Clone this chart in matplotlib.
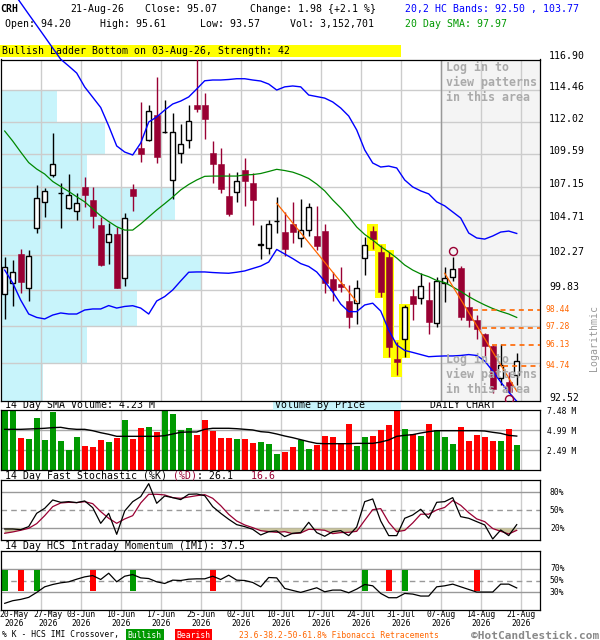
import numpy as np
import matplotlib
matplotlib.use('Agg')
import matplotlib.pyplot as plt
from matplotlib.patches import Rectangle
import matplotlib.transforms as mtransforms
from matplotlib.ticker import NullLocator

# ---------------- data ----------------
ticker = 'CRH'
last_date = '21-Aug-26'
date_labels = ['20-May', '27-May', '03-Jun', '10-Jun', '17-Jun', '25-Jun', '02-Jul',
               '10-Jul', '17-Jul', '24-Jul', '31-Jul', '07-Aug', '14-Aug', '21-Aug']
year_label = '2026'

opens = [99.53, 100.29, 102.32, 99.99, 104.13, 106.01, 107.99, 106.70, 105.58, 105.38,
         107.13, 106.18, 104.37, 103.15, 103.73, 100.64, 106.98, 110.03, 110.61, 112.54,
         111.22, 107.62, 109.62, 110.61, 113.32, 113.32, 109.65, 108.82, 106.47, 106.73,
         108.38, 107.42, 102.98, 102.73, 104.64, 103.85, 104.44, 103.43, 103.99, 103.59,
         103.94, 100.59, 100.24, 99.08, 98.93, 102.02, 103.94, 102.46, 102.14, 95.19,
         96.51, 99.42, 99.26, 99.15, 97.58, 100.29, 100.70, 101.32, 98.66, 97.80,
         96.87, 96.07, 93.97, 93.72, 94.20]
highs = [102.09, 101.90, 102.68, 102.58, 107.28, 107.08, 111.16, 107.40, 108.09, 106.66,
         107.87, 107.13, 104.95, 104.52, 104.25, 105.21, 107.35, 113.58, 113.32, 115.54,
         113.70, 112.72, 111.85, 113.32, 116.90, 114.27, 110.56, 110.03, 108.14, 108.21,
         109.27, 108.14, 104.35, 104.73, 106.42, 105.28, 106.01, 106.25, 105.94, 105.74,
         104.47, 101.07, 101.39, 100.15, 100.52, 103.50, 104.32, 102.93, 102.49, 96.36,
         98.79, 99.90, 101.03, 100.38, 100.75, 101.44, 102.14, 101.49, 99.67, 98.14,
         96.91, 96.14, 96.21, 94.40, 95.61]
lows = [97.85, 98.75, 99.60, 99.06, 103.83, 104.97, 107.89, 104.18, 105.55, 104.73,
        105.70, 104.18, 101.51, 101.65, 99.95, 100.13, 105.41, 109.00, 110.55, 108.92,
        111.14, 106.23, 108.92, 110.05, 112.77, 110.73, 107.40, 106.66, 105.05, 106.01,
        105.77, 104.39, 102.00, 102.35, 103.78, 102.21, 103.12, 102.84, 103.62, 102.61,
        99.60, 99.08, 99.72, 97.28, 97.51, 100.84, 102.68, 99.38, 95.37, 94.19,
        95.37, 97.78, 98.86, 96.89, 97.35, 99.04, 100.47, 97.80, 97.31, 96.56,
        95.37, 93.01, 93.54, 93.01, 93.57]
closes = [101.44, 101.05, 100.41, 102.16, 106.30, 106.81, 108.80, 106.72, 106.52, 105.94,
          106.56, 105.05, 101.58, 103.73, 99.99, 104.85, 106.49, 109.60, 112.83, 109.37,
          111.26, 111.24, 110.30, 112.08, 113.03, 112.26, 108.85, 107.00, 105.16, 107.57,
          107.59, 106.20, 103.02, 104.44, 104.68, 102.70, 103.90, 103.99, 105.67, 102.91,
          100.29, 99.81, 100.06, 98.03, 99.95, 102.93, 103.40, 99.72, 96.03, 95.04,
          98.68, 98.90, 100.08, 97.69, 100.47, 100.64, 101.30, 98.03, 97.78, 97.17,
          96.10, 93.31, 94.81, 93.09, 95.07]
volumes_m = [7.48, 7.45, 4.03, 3.91, 6.48, 3.78, 7.23, 3.62, 2.54, 4.11,
             2.99, 2.87, 3.78, 3.49, 3.99, 6.28, 3.91, 5.24, 5.36, 4.74,
             7.46, 6.98, 5.03, 5.24, 4.41, 6.28, 4.90, 4.03, 4.03, 3.91,
             3.91, 3.37, 3.49, 3.24, 2.04, 2.24, 2.87, 3.70, 2.66, 3.16,
             4.28, 4.11, 3.20, 5.74, 3.03, 4.11, 4.24, 5.03, 5.61, 7.47,
             5.15, 4.49, 4.24, 5.74, 5.03, 4.11, 3.24, 5.40, 3.66, 4.36,
             4.11, 3.62, 3.62, 5.15, 3.152701]
vol_sma_m = [5.07, 5.07, 5.07, 5.11, 5.15, 5.20, 5.28, 5.32, 5.15, 5.07,
             5.07, 4.90, 4.65, 4.45, 4.20, 4.20, 4.20, 4.20, 4.20, 4.20,
             4.28, 4.49, 4.70, 4.74, 4.74, 5.07, 5.20, 5.20, 5.20, 5.15,
             5.07, 4.99, 4.78, 4.70, 4.49, 4.24, 4.03, 3.78, 3.53, 3.32,
             3.28, 3.28, 3.28, 3.28, 3.32, 3.32, 3.32, 3.49, 3.74, 4.20,
             4.32, 4.41, 4.61, 4.78, 4.90, 4.90, 4.90, 4.90, 4.90, 4.90,
             4.86, 4.70, 4.57, 4.32, 4.23]
upper_band = [123.42, 122.47, 121.52, 120.58, 119.66, 118.74, 117.82, 116.92, 116.38, 115.82,
              114.72, 113.92, 113.12, 111.70, 110.18, 109.72, 109.50, 110.40, 112.00, 112.39,
              112.92, 113.39, 113.62, 113.94, 114.56, 115.21, 115.27, 115.27, 115.31, 115.37,
              115.37, 115.27, 115.19, 114.95, 114.48, 114.73, 114.80, 114.73, 114.09, 113.97,
              113.85, 113.55, 113.08, 112.46, 111.39, 109.88, 108.90, 108.60, 108.67, 108.53,
              107.64, 107.13, 106.84, 106.62, 106.04, 105.75, 105.31, 104.87, 103.80, 103.45,
              103.37, 103.59, 103.87, 103.94, 103.77]
lower_band = [101.20, 100.31, 99.14, 98.20, 97.97, 97.87, 98.13, 98.27, 98.20, 98.20,
              98.47, 98.54, 98.54, 98.77, 98.60, 98.71, 98.76, 98.60, 98.20, 99.08,
              99.38, 99.83, 100.45, 101.05, 101.07, 101.07, 101.03, 101.00, 100.98, 101.05,
              101.14, 101.31, 101.48, 101.76, 102.64, 102.32, 102.00, 101.65, 101.45, 101.07,
              100.42, 99.69, 98.87, 98.36, 98.36, 98.81, 98.93, 98.40, 97.13, 96.14,
              95.78, 95.65, 95.51, 95.37, 95.40, 95.42, 95.42, 95.45, 95.51, 95.45,
              95.09, 94.44, 93.73, 93.09, 92.50]
sma20 = [111.31, 110.55, 109.72, 108.93, 108.45, 108.08, 107.53, 107.16, 106.80, 106.41,
         106.04, 105.53, 105.03, 104.62, 104.25, 104.01, 104.01, 104.45, 104.95, 105.45,
         105.91, 106.39, 106.91, 107.31, 107.64, 107.91, 107.93, 107.93, 107.93, 107.93,
         108.01, 108.04, 108.12, 108.27, 108.43, 108.34, 108.22, 108.01, 107.75, 107.34,
         106.84, 106.18, 105.60, 104.95, 104.23, 103.70, 103.30, 102.84, 102.46, 102.04,
         101.55, 101.20, 100.93, 100.74, 100.48, 100.34, 100.04, 99.73, 99.38, 99.08,
         98.81, 98.57, 98.37, 98.20, 97.97]
stoch_k = [18.9, 18.9, 17.8, 22.8, 45.0, 53.3, 67.2, 63.3, 64.4, 62.8,
           65.6, 54.4, 28.3, 45.0, 10.0, 48.9, 64.4, 72.8, 94.4, 61.7,
           73.9, 71.1, 67.8, 76.7, 77.2, 74.4, 56.1, 45.0, 35.0, 26.1,
           22.8, 18.3, 8.9, 14.4, 15.6, 6.1, 11.7, 12.8, 30.0, 12.8,
           6.7, 14.4, 16.1, 7.8, 22.2, 64.4, 68.9, 32.2, 7.8, 7.8,
           36.7, 42.2, 51.7, 36.7, 63.3, 64.4, 71.1, 39.4, 36.7, 31.1,
           25.6, 2.2, 17.2, 7.8, 26.1]
stoch_d = [11.7, 13.9, 16.7, 20.0, 27.8, 41.1, 56.1, 62.2, 63.3, 62.8,
           64.4, 61.1, 47.8, 36.7, 28.3, 35.6, 41.1, 62.2, 76.7, 76.7,
           75.6, 71.1, 70.0, 72.2, 74.4, 76.1, 70.0, 57.8, 43.3, 32.2,
           25.6, 21.1, 16.1, 14.4, 13.3, 14.4, 11.1, 12.2, 18.3, 17.8,
           16.7, 11.1, 12.8, 13.3, 15.0, 33.3, 51.1, 52.8, 30.0, 14.4,
           16.5, 28.9, 43.5, 43.5, 50.6, 54.8, 66.3, 58.3, 46.0, 35.7,
           31.1, 19.6, 15.0, 10.5, 16.6]
imi = [11.7, 16.1, 18.3, 21.7, 30.0, 39.4, 43.3, 46.1, 47.8, 52.2,
       56.1, 58.3, 51.7, 62.2, 47.8, 57.2, 60.0, 54.4, 53.3, 47.8,
       45.0, 50.6, 50.0, 52.2, 52.8, 52.8, 57.2, 51.7, 58.9, 50.6,
       50.0, 46.7, 39.4, 55.0, 54.4, 36.7, 33.3, 30.0, 33.9, 37.8,
       31.1, 33.9, 33.9, 29.4, 35.6, 43.3, 41.1, 28.3, 21.1, 21.1,
       28.3, 27.2, 23.9, 23.9, 39.4, 41.1, 43.9, 39.4, 35.0, 30.6,
       30.6, 30.6, 43.9, 43.9, 37.5]
imi_bull = [0, 4, 16, 45, 50]
imi_bear = [2, 11, 26, 48, 59]

price_ticks = [92.52, 94.95, 97.39, 99.83, 102.27, 104.71, 107.15, 109.59, 112.02, 114.46, 116.90]
hidden_ticks = [94.95, 97.39]
vbp_share = [0.21, 0.43, 0.68, 1.00, 0.60, 0.87, 0.43, 0.52, 0.28, 0.00]
fib_levels = [98.44, 97.28, 96.13, 94.74]
fib_start = [58.5, 59.6, 60.9, 62.3]
trend_lines = [([34, 44], [105.94, 99.03]), ([55, 64], [100.98, 93.15])]
pattern_idx = [46, 47, 48, 49, 50]
pattern_text = 'Bullish Ladder Bottom on 03-Aug-26, Strength: 42'
circle_top = [56]
circle_bottom = [63]
vol_ticks = [7.48, 4.99, 2.49]
stoch_levels = [80, 50, 20]
imi_levels = [70, 50, 30]
login_start = 54.5

# ---------------- style ----------------
W, H, DPI = 600, 640, 100
MONO = 'DejaVu Sans Mono'
plt.rcParams['font.family'] = [MONO, 'DejaVu Sans']
FS = 7.1
FSS = 5.8
CRIM = '#990033'
GRID = '#CCCCCC'
LGRID = '#999999'
BLUE = '#0000FF'
GREEN = '#008800'
VGREEN = '#009900'
VRED = '#FF0000'
CYAN = '#C8F4FB'
ORANGE = '#FF6600'
TAN = '#C9C49C'
X0, X1 = 0.7, 540.0
XLIM = (-0.5, 66.91)
PX = 72.0 / DPI  # points per pixel

fig = plt.figure(figsize=(W / DPI, H / DPI), dpi=DPI)
fig.patch.set_facecolor('white')


def rect(top, bottom):
    return [X0 / W, 1 - bottom / H, (X1 - X0) / W, (bottom - top) / H]


def ftext(x, y, s, size=FS, color='black', ha='left', weight='normal', **kw):
    return fig.text(x / W, 1 - y / H, s, fontsize=size, color=color, ha=ha,
                    va='center', fontweight=weight, family=MONO, **kw)


def style_axes(a):
    a.set_xlim(*XLIM)
    a.set_xticks([])
    a.set_yticks([])
    a.yaxis.set_minor_locator(NullLocator())
    a.xaxis.set_minor_locator(NullLocator())
    for sp in a.spines.values():
        sp.set_linewidth(0.9)
        sp.set_color('black')


grid_x = [4.5 + 5 * k for k in range(13)]
idx = np.arange(len(closes))

# ---------------- header ----------------
chg = closes[-1] - closes[-2]
pct = chg / closes[-2] * 100
ftext(0, 9, ticker, weight='bold')
ftext(70, 9, last_date)
ftext(144.7, 9, f'Close: {closes[-1]:.2f}')
ftext(249.5, 9, f'Change: {chg:.2f} {{{pct:+.1f} %}}')
ftext(405, 9, f'20,2 HC Bands: {lower_band[-1]:.2f} , {upper_band[-1]:.2f}', color=BLUE)
ftext(4.6, 24, f'Open: {opens[-1]:.2f}')
ftext(100, 24, f'High: {highs[-1]:.2f}')
ftext(200, 24, f'Low: {lows[-1]:.2f}')
ftext(290, 24, f'Vol: {int(round(volumes_m[-1] * 1e6)):,}')
ftext(405, 24, f'20 Day SMA: {sma20[-1]:.2f}', color=VGREEN)

fig.patches.append(Rectangle((0, 1 - 57.3 / H), 400.7 / W, 12.3 / H,
                             transform=fig.transFigure, fc='#FFFF00', ec='none', zorder=1))
ftext(2, 51.2, pattern_text)

# ---------------- main price panel ----------------
ax = fig.add_axes(rect(59.5, 401))
ax.set_zorder(5)
ax.set_yscale('log')
style_axes(ax)
ax.set_ylim(price_ticks[0], price_ticks[-1])
ax.yaxis.set_minor_locator(NullLocator())

ax.axvspan(login_start, XLIM[1], color='#F4F4F4', zorder=0, lw=0)
for j, share in enumerate(vbp_share):
    if share > 0:
        ax.add_patch(Rectangle((XLIM[0], price_ticks[j]), share * 25.0,
                               price_ticks[j + 1] - price_ticks[j],
                               fc=CYAN, ec='none', zorder=0.5))
for p in price_ticks[1:-1]:
    ax.axhline(p, color=GRID, lw=1.0, zorder=1)
for g in grid_x:
    ax.axvline(g, color=GRID, lw=1.0, zorder=1)
ax.axvline(login_start, color='#999999', lw=1.0, zorder=1.2)

# pattern highlight
pad = np.exp(1.7 / 1460)
for i in pattern_idx:
    lo, hi = lows[i] / pad, highs[i] * pad
    ax.add_patch(Rectangle((i - 0.72, lo), 1.44, hi - lo, fc='#FFFF00', ec='none', zorder=2))

# candles
for i in idx:
    o, h, l, c = opens[i], highs[i], lows[i], closes[i]
    bull = c >= o
    col = 'black' if bull else CRIM
    ax.vlines(i, l, h, color=col, lw=1.0, zorder=4)
    if bull:
        ax.add_patch(Rectangle((i - 0.31, o), 0.62, max(c - o, 0.01), fc='white',
                               ec='black', lw=1.0, zorder=4.5))
    else:
        ax.add_patch(Rectangle((i - 0.37, c), 0.74, o - c, fc=CRIM, ec=CRIM,
                               lw=0.4, zorder=4.5))

ax.plot(idx, upper_band, color=BLUE, lw=1.0, zorder=5, clip_on=False)
ax.plot(idx, lower_band, color=BLUE, lw=1.0, zorder=5)
ax.plot(idx, sma20, color=GREEN, lw=0.9, zorder=5)
for xs, ys in trend_lines:
    ax.plot(xs, ys, color=ORANGE, lw=0.9, zorder=6)
for lvl, st in zip(fib_levels, fib_start):
    ax.plot([st, XLIM[1]], [lvl, lvl], color=ORANGE, lw=1.2, ls=(0, (3, 2.5)), zorder=6)

up_off = mtransforms.offset_copy(ax.transData, fig=fig, x=0, y=5.5 * PX, units='points')
dn_off = mtransforms.offset_copy(ax.transData, fig=fig, x=0, y=-5.5 * PX, units='points')
for i in circle_top:
    ax.plot([i], [highs[i]], marker='o', ms=8 * PX, mfc='none', mec=CRIM, mew=1.0,
            transform=up_off, zorder=7)
for i in circle_bottom:
    ax.plot([i], [lows[i]], marker='o', ms=8 * PX, mfc='none', mec=CRIM, mew=1.0,
            transform=dn_off, zorder=7)

# login text
for k, line in enumerate(['Log in to', 'view patterns', 'in this area']):
    for y0 in (67.3, 359.3):
        ftext(446.5, y0 + 15 * k, line, size=8.4, color='#AAAAAA', weight='bold', zorder=8)

# right labels
blend = mtransforms.blended_transform_factory(ax.transAxes, ax.transData)
lab_tr = mtransforms.offset_copy(blend, fig=fig, x=9 * PX, y=3 * PX, units='points')
for p in price_ticks:
    if p in hidden_ticks:
        continue
    ax.text(1.0, p, f'{p:.2f}', transform=lab_tr, fontsize=FS, va='center', ha='left',
            clip_on=False)
fib_tr = mtransforms.offset_copy(blend, fig=fig, x=5 * PX, y=1 * PX, units='points')
for lvl in fib_levels:
    ax.text(1.0, lvl, f'{lvl:.2f}', transform=fib_tr, fontsize=FSS, color=ORANGE,
            va='center', ha='left', clip_on=False)
ftext(594.5, 338, 'Logarithmic', color='#999999', rotation=90, ha='center')

# ---------------- volume panel ----------------
ftext(4.6, 405.5, f'14 Day SMA Volume: {vol_sma_m[-1]:.2f} M')
fig.patches.append(Rectangle((272.5 / W, 1 - 410 / H), 128.2 / W, 10.5 / H,
                             transform=fig.transFigure, fc=CYAN, ec='none', zorder=1))
ftext(275, 405.5, 'Volume By Price')
ftext(430, 405.5, 'DAILY CHART')

axv = fig.add_axes(rect(410, 470))
style_axes(axv)
axv.set_ylim(0, vol_ticks[0])
for g in grid_x:
    axv.axvline(g, color=GRID, lw=1.0, zorder=0.5)
for v in vol_ticks[1:]:
    axv.axhline(v, color='#AAAAAA', lw=1.0, zorder=0.5)
vcolors = [VGREEN if closes[i] >= opens[i] else VRED for i in idx]
axv.bar(idx, volumes_m, width=0.74, color=vcolors, zorder=2)
axv.plot(idx, vol_sma_m, color='black', lw=1.0, zorder=3)
vblend = mtransforms.blended_transform_factory(axv.transAxes, axv.transData)
vlab = mtransforms.offset_copy(vblend, fig=fig, x=7 * PX, y=-1.5 * PX, units='points')
for v in vol_ticks:
    axv.text(1.0, v, f'{v:.2f} M', transform=vlab, fontsize=FSS, va='center', ha='left',
             clip_on=False)

# ---------------- stochastic panel ----------------
base = f'14 Day Fast Stochastic (%K) (%D): {stoch_k[-1]:.1f}   {stoch_d[-1]:.1f}'
p1 = base.index('(%D)')
p2 = base.rindex(f'{stoch_d[-1]:.1f}')
black_s = ''.join(ch if not (p1 <= n < p1 + 4 or n >= p2) else ' ' for n, ch in enumerate(base))
red_s = ''.join(ch if (p1 <= n < p1 + 4 or n >= p2) else ' ' for n, ch in enumerate(base))
ftext(4.6, 476, black_s)
ftext(4.6, 476, red_s, color=CRIM)

axs = fig.add_axes(rect(480.3, 540.3))
style_axes(axs)
axs.set_ylim(0, 100)
for g in grid_x:
    axs.axvline(g, color=GRID, lw=1.0, zorder=0.5)
for lv in stoch_levels:
    axs.axhline(lv, color=LGRID, lw=1.0, ls=(0, (4, 3)) if lv == 50 else '-', zorder=0.6)
sd = np.array(stoch_d)
axs.fill_between(idx, sd, 20, where=sd < 20, interpolate=True, color=TAN, lw=0, zorder=1)
axs.plot(idx, stoch_d, color=CRIM, lw=0.9, zorder=2)
axs.plot(idx, stoch_k, color='black', lw=0.9, zorder=3)
sblend = mtransforms.blended_transform_factory(axs.transAxes, axs.transData)
slab = mtransforms.offset_copy(sblend, fig=fig, x=10 * PX, y=0, units='points')
for lv in stoch_levels:
    axs.text(1.0, lv, f'{lv}%', transform=slab, fontsize=FSS, va='center', ha='left',
             clip_on=False)

# ---------------- IMI panel ----------------
ftext(4.6, 546, f'14 Day HCS Intraday Momentum (IMI): {imi[-1]:.1f}')
axi = fig.add_axes(rect(550.7, 610.3))
style_axes(axi)
axi.set_ylim(0, 100)
for g in grid_x:
    axi.axvline(g, color=GRID, lw=1.0, zorder=0.5)
for lv in imi_levels:
    axi.axhline(lv, color=LGRID, lw=1.0, ls=(0, (4, 3)) if lv == 50 else '-', zorder=0.6)
axi.bar(imi_bull, 35, bottom=32.5, width=0.74, color=VGREEN, zorder=1)
axi.bar(imi_bear, 35, bottom=32.5, width=0.74, color=VRED, zorder=1)
axi.plot(idx, imi, color='black', lw=0.9, zorder=3)
iblend = mtransforms.blended_transform_factory(axi.transAxes, axi.transData)
ilab = mtransforms.offset_copy(iblend, fig=fig, x=10 * PX, y=0, units='points')
for lv in imi_levels:
    axi.text(1.0, lv, f'{lv}%', transform=ilab, fontsize=FSS, va='center', ha='left',
             clip_on=False)

# date labels (centred on the weekly grid lines; first two nudged apart)
label_x = [14.5, 47.8] + [0.7 + 40 * k for k in range(2, len(date_labels))]
for lbl, xp in zip(date_labels, label_x):
    ftext(xp, 614.5, lbl, size=FSS, ha='center')
    ftext(xp, 624.0, year_label, size=FSS, ha='center')

# legend row
ftext(2, 635, '% K - HCS IMI Crossover,', size=FSS)
fig.patches.append(Rectangle((125.5 / W, 1 - 640 / H), 38.3 / W, 11 / H,
                             transform=fig.transFigure, fc=VGREEN, ec='none', zorder=1))
ftext(144.6, 635, 'Bullish', size=FSS, color='white', ha='center')
fig.patches.append(Rectangle((175.3 / W, 1 - 640 / H), 37.1 / W, 11 / H,
                             transform=fig.transFigure, fc=VRED, ec='none', zorder=1))
ftext(193.8, 635, 'Bearish', size=FSS, color='white', ha='center')
ftext(239, 635, '23.6-38.2-50-61.8% Fibonacci Retracements', size=FSS, color=ORANGE)
ftext(599, 636, '\u00a9HotCandlestick.com', size=8.0, color='#888888', weight='bold', ha='right')

fig.savefig('out.png', dpi=DPI)
